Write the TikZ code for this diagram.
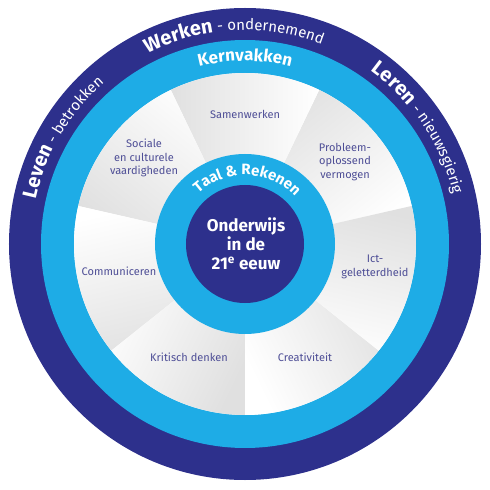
\documentclass[tikz,border=0pt]{standalone}
\usepackage{fontspec}
\setmainfont{Fira Sans}
\usetikzlibrary{decorations.text}
\definecolor{donkerblauw}{RGB}{45,48,140}
\definecolor{lichtblauw}{RGB}{30,172,230}
\definecolor{vaktekst}{RGB}{78,78,150}
\begin{document}
\begin{tikzpicture}[x=1pt,y=1pt,
    vak/.style={align=center,text=vaktekst,font=\fontsize{11}{13.5}\selectfont},
    ringtekst/.style={decorate,decoration={text along path,text align=center,text color=white}}]
    \useasboundingbox (-245,-246) rectangle (245,244);

    % ringen
    \fill[donkerblauw] (0,0) circle[radius=236pt];
    \fill[lichtblauw] (0,0) circle[radius=204pt];
    \fill[white] (0,0) circle[radius=171pt];

    % zeven vakken, elk van grijs naar wit
    \foreach \i in {0,...,6} {
        \pgfmathsetmacro{\s}{12.857+51.4286*\i}
        \pgfmathsetmacro{\m}{\s+25.714}
        \shade[top color=black!12,bottom color=white,shading angle=\m]
            (0,0) -- (\s:171pt) arc[start angle=\s,delta angle=51.4286,radius=171pt] -- cycle;
    }

    \fill[lichtblauw] (0,0) circle[radius=90pt];
    \fill[donkerblauw] (0,0) circle[radius=59pt];

    % teksten op de ringen
    \path[ringtekst,decoration={text={|\fontsize{20}{20}\selectfont\bfseries|Werken|\fontsize{15}{15}\selectfont\mdseries| - ondernemend}}]
        (150:214pt) arc[start angle=150,end angle=36,radius=214pt];
    \path[ringtekst,decoration={text={|\fontsize{20}{20}\selectfont\bfseries|Leven|\fontsize{15}{15}\selectfont\mdseries| - betrokken}}]
        (205:214pt) arc[start angle=205,end angle=94,radius=214pt];
    \path[ringtekst,decoration={text={|\fontsize{20}{20}\selectfont\bfseries|Leren|\fontsize{15}{15}\selectfont\mdseries| - nieuwsgierig}}]
        (88:214pt) arc[start angle=88,end angle=-20.5,radius=214pt];
    \path[ringtekst,decoration={text={|\fontsize{17}{17}\selectfont\bfseries|Kernvakken}}]
        (130:183pt) arc[start angle=130,end angle=50,radius=183pt];
    \path[ringtekst,decoration={text={|\fontsize{15}{15}\selectfont\bfseries|Taal {\&} Rekenen}}]
        (165:69pt) arc[start angle=165,end angle=11,radius=69pt];

    % midden
    \node[align=center,text=white,font=\fontsize{17}{19}\selectfont\bfseries] (midden) at (1,0)
        {Onderwijs\\ in de\\ 21\textsuperscript{e} eeuw};

    % vakken
    \node[vak] (samen) at (0,130) {Samenwerken};
    \node[vak] (sociaal) at (-101,86) {Sociale\\ en culturele\\ vaardigheden};
    \node[vak] (probleem) at (100,82) {Probleem-\\ oplossend\\ vermogen};
    \node[vak] (ict) at (130,-23) {Ict-\\ geletterdheid};
    \node[vak] (communiceren) at (-126,-27) {Communiceren};
    \node[vak] (kritisch) at (-56,-113) {Kritisch denken};
    \node[vak] (creatief) at (60,-113) {Creativiteit};
\end{tikzpicture}
\end{document}
